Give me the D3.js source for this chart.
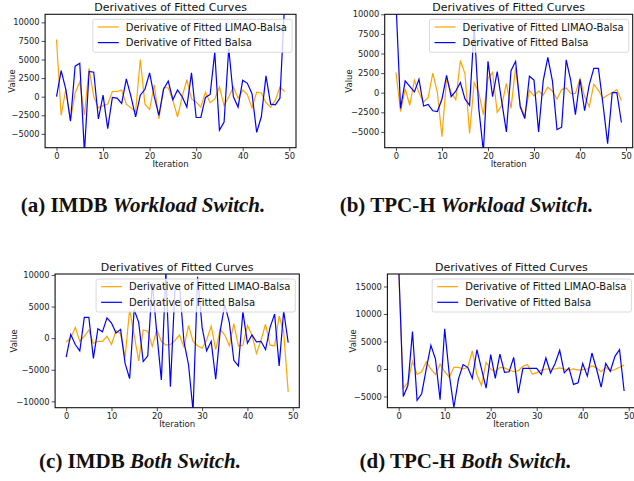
<!DOCTYPE html>
<html>
<head>
<meta charset="utf-8">
<script src="https://cdn.jsdelivr.net/npm/d3@7"></script>
<style>
  html, body { margin: 0; padding: 0; background: #fff; }
  svg { display: block; }
  .tick text { font-family: "DejaVu Sans", sans-serif; font-size: 8.3px; fill: #222; }
</style>
</head>
<body>
<svg id="chart" width="634" height="481"></svg>
<script>
  'use strict';

  // Iterations on the x axis and tick labels shared by all panels
  var iterations = d3.range(0, 50);
  var xTicks = [0, 10, 20, 30, 40, 50];

  // Series names used in each legend
  var seriesNames = ['Derivative of Fitted LIMAO-Balsa', 'Derivative of Fitted Balsa'];

  // (a) IMDB workload switch
  var imdbWorkloadLimao = [7700, -2500, 1000, -3200, 500, 2000, -2500, 3800, 0, -1500,
    -1200, -1000, 700, 700, 900, -1000, -1500, -2000, 5000, -1000,
    -1700, 1600, -3000, 1200, 1200, -500, -2700, 0, 2300, -300,
    -700, -1400, 600, -800, -300, 1300, -1200, 0, 1300, -200,
    900, 300, -1500, 600, 500, -800, -1400, -500, 1300, 700];
  var imdbWorkloadBalsa = [0, 3500, 1000, -3300, 4100, 4500, -7500, 3400, 3300, -3000,
    200, -4300, -100, -200, -900, 2400, 0, -2700, 200, 1000,
    3200, 0, -2500, 1000, 2100, -400, 900, 0, -1400, 3200,
    -2800, -2800, -100, 300, 6000, -4500, -3400, 6500, 0, -1400,
    2200, 1800, 400, -4800, -2700, 2800, -1000, -1100, -200, 12500];
  var yTicksA = [-5000, -2500, 0, 2500, 5000, 7500, 10000];

  // (b) TPC-H workload switch
  var tpchWorkloadLimao = [2600, -2400, 500, -1600, 1600, 0, -1200, -600, 2500, 0,
    -5600, 1800, 0, -900, 4100, 2400, -5200, 1300, 0, -2800,
    1800, 2600, -2500, -1600, 1200, -2000, 3200, -1600, -3000, 300,
    -400, 200, -300, 700, 200, -800, 400, 600, -100, -100,
    1800, -500, -1800, 1100, 300, -700, -300, 0, 400, -1000];
  var tpchWorkloadBalsa = [11500, -2000, 1500, 800, 100, 1700, -1700, -1500, -2300, -2400,
    -800, 2200, -500, 200, 1300, -800, -1600, 8400, -2000, -7500,
    4000, -500, 2700, -1200, -5000, 2800, 4000, -1800, -3300, 2100,
    1600, -5000, 1500, 4500, 1500, -4700, -4400, 4200, 1500, -2800,
    1700, -2300, 1000, 3100, 3100, -1500, -6500, 0, 0, -3800];
  var yTicksB = [-5000, -2500, 0, 2500, 5000, 7500, 10000];

  // (c) IMDB both switch
  var imdbBothLimao = [-600, 0, 1700, -500, 300, 1300, -800, -500, -500, 300,
    -1000, 1200, 700, -3000, 4500, 500, -3600, 1300, 1100, -1300,
    1300, -500, -1100, -1000, -400, 500, -1400, 2000, -500, -1200,
    -1600, -300, 1900, -1800, 1400, 500, -1200, 2300, -1200, -1100,
    2000, 500, -2400, -300, 2200, -1100, -1200, 3500, 1000, -8500];
  var imdbBothBalsa = [-3000, 600, -1000, -2000, 3300, 3300, -3200, 1500, 1000, 3200,
    2400, 800, 1400, -4000, -6400, 4500, 2500, -3700, -2800, 8700,
    800, -6600, 10500, -7700, 7800, 8300, -600, -4200, -11500, 9700,
    1700, -2000, -500, -6500, 1200, 5300, 2500, -3500, -4400, 4200,
    -800, 500, -600, -500, -1800, 1700, 3800, -4400, 4300, -700];
  var yTicksC = [-10000, -5000, 0, 5000, 10000];

  // (d) TPC-H both switch
  var tpchBothLimao = [18000, -3500, -2500, 1400, -1000, -500, 1300, 0, -1000, 900,
    -500, -1500, 300, 300, 0, 300, 3300, -1000, -3000, 1200,
    0, -500, 300, 200, -200, -500, -300, 500, 800, -900,
    -700, -200, 0, 0, 0, 200, 0, -200, 0, -200,
    -100, 0, 600, 200, -500, 300, -400, -100, 300, 700];
  var tpchBothBalsa = [19000, -5000, -3000, 6800, -5700, -4500, 0, 4300, 1800, -5600,
    7300, -1000, -7000, -1800, 800, 300, -1700, 3500, 0, -3500,
    2600, -1700, 2700, -600, -500, 2100, -4400, 100, 100, 100,
    100, -1000, 2000, -700, 1000, 3400, -700, 200, -2800, -2500,
    1000, -1300, 2900, 0, -3300, 1000, -400, 2300, 3500, -4000];
  var yTicksD = [-5000, 0, 5000, 10000, 15000];

  // Line colours of the two series
  var SERIES_COLORS = ['orange', 'blue'];

  // Panel frames in page pixels
  var PANELS = [
    { id: 'a', left: 45.1, right: 296, top: 14.3, bottom: 147.7, yMin: -6860, yMax: 11080,
      limao: imdbWorkloadLimao, balsa: imdbWorkloadBalsa, yTicks: yTicksA, labelX: 11.5 },
    { id: 'b', left: 384.7, right: 632.7, top: 14.3, bottom: 147.7, yMin: -7015, yMax: 10000,
      limao: tpchWorkloadLimao, balsa: tpchWorkloadBalsa, yTicks: yTicksB, labelX: 349 },
    { id: 'c', left: 55.1, right: 299.3, top: 274, bottom: 407.7, yMin: -11000, yMax: 10150,
      limao: imdbBothLimao, balsa: imdbBothBalsa, yTicks: yTicksC, labelX: 13.5 },
    { id: 'd', left: 387.4, right: 635.4, top: 274, bottom: 407.7, yMin: -7040, yMax: 17270,
      limao: tpchBothLimao, balsa: tpchBothBalsa, yTicks: yTicksD, labelX: 353 }
  ];

  // Sub-figure captions: plain part then italic part
  var CAPTIONS = [
    { prefix: '(a) IMDB ', italic: 'Workload Switch.', cx: 143, y: 212 },
    { prefix: '(b) TPC-H ', italic: 'Workload Switch.', cx: 466.5, y: 212 },
    { prefix: '(c) IMDB ', italic: 'Both Switch.', cx: 140, y: 468 },
    { prefix: '(d) TPC-H ', italic: 'Both Switch.', cx: 465.5, y: 468 }
  ];

  var svg = d3.select('#chart');
  var fmt = function(d) { return d < 0 ? '\u2212' + Math.abs(d) : String(d); };

  // Draws one panel of the figure
  function drawPanel(p) {
    var x = d3.scaleLinear().domain([-2.45, 51.45]).range([p.left, p.right]);
    var y = d3.scaleLinear().domain([p.yMin, p.yMax]).range([p.bottom, p.top]);

    svg.append('clipPath').attr('id', 'clip-' + p.id)
      .append('rect')
      .attr('x', p.left).attr('y', p.top)
      .attr('width', p.right - p.left).attr('height', p.bottom - p.top);

    var g = svg.append('g');

    // Series lines
    var line = d3.line()
      .x(function(d, i) { return x(iterations[i]); })
      .y(function(d) { return y(d); });
    var lines = g.append('g').attr('clip-path', 'url(#clip-' + p.id + ')');
    [p.limao, p.balsa].forEach(function(values, k) {
      lines.append('path')
        .datum(values)
        .attr('d', line)
        .attr('fill', 'none')
        .attr('stroke', SERIES_COLORS[k])
        .attr('stroke-width', 1.2);
    });

    // Axes
    var xAxis = d3.axisBottom(x).tickValues(xTicks).tickSize(3.5).tickPadding(2);
    var yAxis = d3.axisLeft(y).tickValues(p.yTicks).tickSize(3.5).tickPadding(2).tickFormat(fmt);
    g.append('g').attr('transform', 'translate(0,' + p.bottom + ')').call(xAxis)
      .call(function(s) { s.select('.domain').remove(); });
    g.append('g').attr('transform', 'translate(' + p.left + ',0)').call(yAxis)
      .call(function(s) { s.select('.domain').remove(); });
    g.selectAll('.tick line').attr('stroke', '#222').attr('stroke-width', 0.8);

    // Frame
    g.append('rect')
      .attr('x', p.left).attr('y', p.top)
      .attr('width', p.right - p.left).attr('height', p.bottom - p.top)
      .attr('fill', 'none').attr('stroke', '#111').attr('stroke-width', 1.1);

    // Title and axis labels
    g.append('text')
      .attr('x', (p.left + p.right) / 2).attr('y', p.top - 3.5)
      .attr('text-anchor', 'middle')
      .style('font', '11px "DejaVu Sans", sans-serif').attr('fill', '#111')
      .text('Derivatives of Fitted Curves');
    g.append('text')
      .attr('x', (p.left + p.right) / 2).attr('y', p.bottom + 19.5)
      .attr('text-anchor', 'middle')
      .style('font', '8.5px "DejaVu Sans", sans-serif').attr('fill', '#222')
      .text('Iteration');
    g.append('text')
      .attr('transform', 'translate(' + (p.labelX + 3) + ',' + ((p.top + p.bottom) / 2) + ') rotate(-90)')
      .attr('text-anchor', 'middle')
      .style('font', '8.5px "DejaVu Sans", sans-serif').attr('fill', '#222')
      .text('Value');

    // Legend in the upper right corner
    var legend = g.append('g');
    var box = legend.append('rect')
      .attr('fill', 'white').attr('fill-opacity', 0.8)
      .attr('stroke', '#d0d0d0').attr('stroke-width', 0.8)
      .attr('rx', 2).attr('ry', 2);
    var maxW = 0;
    seriesNames.forEach(function(name, k) {
      var row = legend.append('g').attr('transform', 'translate(0,' + (7.7 + k * 15.6) + ')');
      row.append('line')
        .attr('x1', 5).attr('x2', 26)
        .attr('stroke', SERIES_COLORS[k]).attr('stroke-width', 1.2);
      var t = row.append('text')
        .attr('x', 33).attr('dy', '0.35em')
        .style('font', '10px "DejaVu Sans", sans-serif').attr('fill', '#111')
        .text(name);
      maxW = Math.max(maxW, t.node().getComputedTextLength());
    });
    var boxW = 33 + maxW + 5;
    box.attr('width', boxW).attr('height', 33);
    legend.attr('transform', 'translate(' + (p.right - 4 - boxW) + ',' + (p.top + 5) + ')');
  }

  PANELS.forEach(drawPanel);

  // Captions below each panel
  CAPTIONS.forEach(function(c) {
    var t = svg.append('text')
      .attr('x', c.cx).attr('y', c.y)
      .attr('text-anchor', 'middle')
      .style('font-family', '"Liberation Serif", serif')
      .style('font-size', '21px')
      .style('font-weight', 'bold')
      .attr('fill', '#111');
    t.append('tspan').text(c.prefix);
    t.append('tspan').style('font-style', 'italic').text(c.italic);
  });
</script>
</body>
</html>
